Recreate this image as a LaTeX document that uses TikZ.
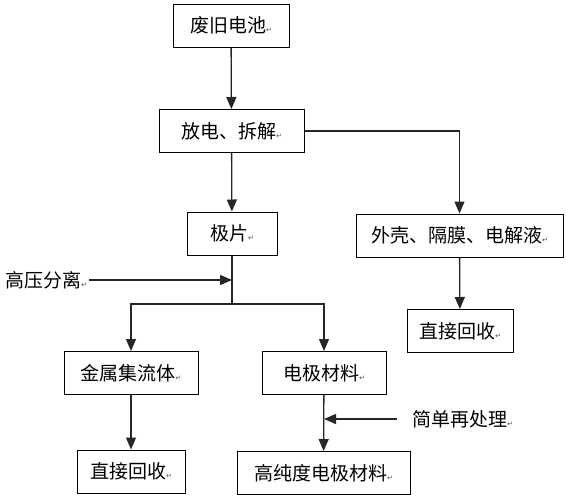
\documentclass[tikz,border=0pt]{standalone}
\usepackage{fontspec}
\newfontfamily\cjk{Noto Sans CJK SC}
\newfontfamily\symfont{DejaVu Sans}
\usetikzlibrary{arrows.meta}
\newcommand{\pmark}{{\symfont\fontsize{7}{7}\selectfont\color{black!70}↵}}

\begin{document}
\begin{tikzpicture}[
  x=1pt, y=-1pt,
  box/.style={
    draw=black,
    line width=1pt,
    fill=white,
    minimum height=43pt,
    inner sep=0pt,
    font=\cjk\fontsize{19}{21}\selectfont
  },
  arr/.style={
    -{Triangle[length=12pt,width=10pt]},
    line width=1.3pt,
    color=black!85
  },
  note/.style={
    font=\cjk\fontsize{19}{21}\selectfont,
    inner sep=0pt
  }
]
\useasboundingbox (0,0) rectangle (566,499);

% Row 1: battery
\node[box, minimum width=116pt] (battery) at (231,25.5) {废旧电池\pmark};

% Row 2: dismantling
\node[box, minimum width=145pt] (dismantle) at (231.5,131) {放电、拆解\pmark};

% Row 3: electrode sheet / casing
\node[box, minimum width=90pt] (sheet) at (232,233.5) {极片\pmark};
\node[box, minimum width=207pt] (casing) at (459.5,235.5) {外壳、隔膜、电解液\pmark};

% Row 4: direct recycling (right)
\node[box, minimum width=106pt] (recycleR) at (460,331) {直接回收\pmark};

% Row 5: collector / electrode material
\node[box, minimum width=134pt] (foil) at (131,373) {金属集流体\pmark};
\node[box, minimum width=124pt] (material) at (324,373) {电极材料\pmark};

% Row 6: outputs
\node[box, minimum width=108pt] (recycleL) at (131,471.5) {直接回收\pmark};
\node[box, minimum width=173pt] (pure) at (323.5,473) {高纯度电极材料\pmark};

% Side labels
\node[note, anchor=west] (highpress) at (5,280) {高压分离\pmark};
\node[note, anchor=west] (simple) at (412,419) {简单再处理\pmark};

% Junctions
\coordinate (press) at (232,280);
\coordinate (split) at (232,304);
\coordinate (refine) at (324,419);

% Arrows
\draw[arr] (battery) -- (dismantle);
\draw[arr] (dismantle) -- (sheet);
\draw[arr] (dismantle.east) -| (casing.north);
\draw[arr] (casing) -- (recycleR);
\draw[line width=1.3pt, black!85] (sheet) -- (split);
\draw[arr, shorten <=2pt] (highpress) -- (press);
\draw[arr] (split) -| (foil.north);
\draw[arr] (split) -| (material.north);
\draw[arr] (foil) -- (recycleL);
\draw[arr] (material) -- (pure);
\draw[arr, shorten <=15pt] (simple) -- (refine);

\end{tikzpicture}
\end{document}
